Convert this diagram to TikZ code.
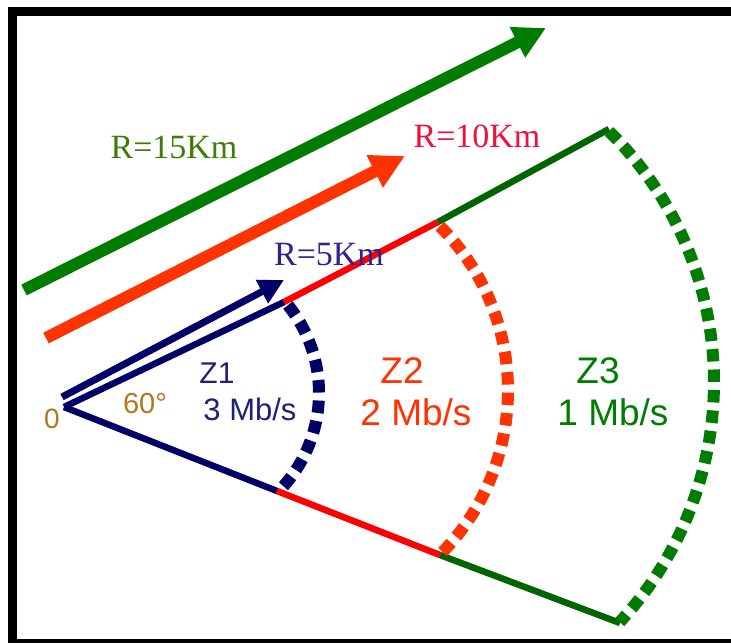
\documentclass[tikz,border=0pt]{standalone}
\usepackage{fontspec}
\setmainfont{Liberation Serif}
\newfontfamily\arialf{Liberation Sans}
\usetikzlibrary{arrows.meta}
\definecolor{navyc}{HTML}{000066}
\definecolor{navytxt}{HTML}{1E1E82}
\definecolor{rlabc}{HTML}{302090}
\definecolor{orangec}{HTML}{FF3300}
\definecolor{redc}{HTML}{FF0000}
\definecolor{redtxt}{HTML}{F0103A}
\definecolor{greenc}{HTML}{007D00}
\definecolor{dgreenc}{HTML}{006400}
\definecolor{olivetxt}{HTML}{3C7D0A}
\definecolor{ochre}{HTML}{B07820}
\tikzset{
  raysty/.style={line width=6.5pt},
  dotarc/.style={line width=12pt, dash pattern=on 12.5pt off 8pt},
  bigarrow/.style={line width=12pt},
  zlab/.style={anchor=base, inner sep=0pt, font=\arialf\fontsize{37pt}{37pt}\selectfont},
  rlab/.style={anchor=base, inner sep=0pt, font=\fontsize{34pt}{34pt}\selectfont},
}
\begin{document}
\begin{tikzpicture}[x=1pt,y=-1pt]
\useasboundingbox (0,0) rectangle (731,643);
\fill[white] (0,0) rectangle (731,643);
% frame
\fill[black] (8,7) rectangle (731,16);
\fill[black] (8,7) rectangle (17,643);
\fill[black] (8,639) rectangle (731,643);

% key points
\coordinate (O) at (64,407);
\coordinate (U5) at (284,302);
\coordinate (U10) at (438,222);
\coordinate (U15) at (609,129);
\coordinate (L5) at (277,491);
\coordinate (L10) at (440,555);
\coordinate (L15) at (620,623);

% rays
\draw[raysty, navyc] (O) -- (U5);
\draw[raysty, redc] (U5) -- (U10);
\draw[raysty, dgreenc] (U10) -- (U15);
\draw[raysty, navyc] (O) -- (L5);
\draw[raysty, redc] (L5) -- (L10);
\draw[raysty, dgreenc] (L10) -- (L15);

% dotted arcs
\draw[dotarc, navyc] plot[domain=38.9:-44.5, samples=50, variable=\t]
  ({179.1+139.9*cos(\t)},{393.0-139.9*sin(\t)});
\draw[dotarc, orangec] plot[domain=45:-44.3, samples=60, variable=\t]
  ({275.7+232.3*cos(\t)},{390.5-232.3*sin(\t)});
\draw[dotarc, greenc] plot[domain=45.4:-42.9, samples=80, variable=\t]
  ({361.6+352.4*cos(\t)},{382.2-352.4*sin(\t)});

% arrows
\coordinate (GA0) at (24,290);
\coordinate (GA1) at (546,28);
\coordinate (OA0) at (46,338);
\coordinate (OA1) at (405,156);
\coordinate (BA0) at (62,397);
\coordinate (BA1) at (284,280);
\draw[bigarrow, greenc, -{Triangle[length=32pt,width=32pt]}] (GA0) -- (GA1);
\draw[bigarrow, orangec, -{Triangle[length=34pt,width=34pt]}] (OA0) -- (OA1);
\draw[line width=7pt, navyc, -{Triangle[length=25pt,width=25pt]}] (BA0) -- (BA1);

% labels
\node[rlab, olivetxt] (r15) at (174,158) {R=15Km};
\node[rlab, redtxt] (r10) at (477,147) {R=10Km};
\node[rlab, rlabc] (r5) at (329,265) {R=5Km};

\node[anchor=base, inner sep=0pt, ochre, font=\arialf\fontsize{28pt}{28pt}\selectfont] (zero) at (52,428) {0};
\node[anchor=base, inner sep=0pt, ochre, font=\arialf\fontsize{29pt}{29pt}\selectfont] (ang) at (145,413) {60°};

\node[anchor=base, inner sep=0pt, navytxt, font=\arialf\fontsize{30pt}{30pt}\selectfont] (z1) at (217,383) {Z1};
\node[anchor=base, inner sep=0pt, navytxt, font=\arialf\fontsize{31pt}{31pt}\selectfont] (m1) at (250,420) {3 Mb/s};
\node[zlab, orangec] (z2) at (402,383) {Z2};
\node[zlab, orangec] (m2) at (416,425) {2 Mb/s};
\node[zlab, greenc] (z3) at (598,383) {Z3};
\node[zlab, greenc] (m3) at (613,425) {1 Mb/s};
\end{tikzpicture}
\end{document}
